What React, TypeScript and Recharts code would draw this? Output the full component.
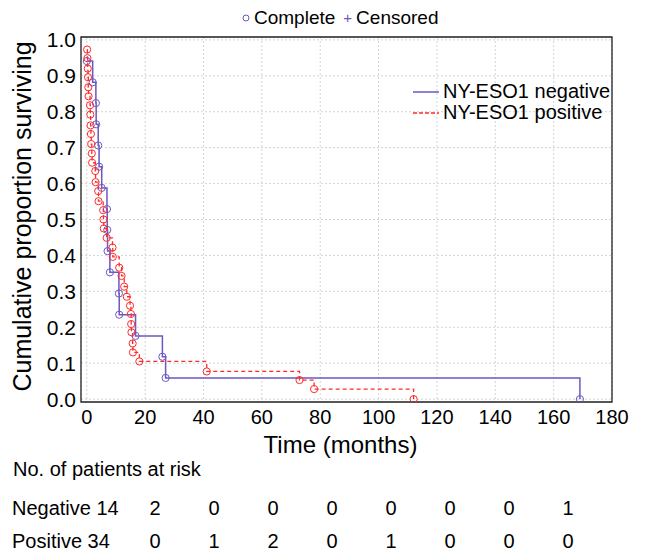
import React from 'react';
import { LineChart, Line, XAxis, YAxis, CartesianGrid, ReferenceArea, Legend } from 'recharts';

// NY-ESO1 negative: event times (months) and survival after each event
const negTime = [0, 2.0, 3.1, 3.2, 3.9, 4.2, 5.1, 6.9, 7.0, 7.1, 7.9, 11.0, 11.1, 16.7, 25.9, 27.0, 169];
const negSurv = [0.941, 0.882, 0.824, 0.765, 0.706, 0.647, 0.588, 0.529, 0.471, 0.412, 0.353, 0.294, 0.235, 0.176, 0.118, 0.059, 0];

// NY-ESO1 positive
const posTime = [0.1, 0.2, 0.3, 0.4, 0.5, 0.6, 1.1, 1.2, 1.3, 1.4, 1.5, 1.7, 1.8, 2.9, 3.0, 3.9, 4.0, 5.6, 5.7, 5.8, 6.8, 8.8, 8.9, 11.1, 11.9, 12.8, 13.7, 14.8, 15.1, 15.2, 15.3, 15.7, 15.8, 18.0, 41.1, 72.9, 77.9, 112];
const posSurv = [0.973, 0.949, 0.92, 0.896, 0.868, 0.843, 0.818, 0.792, 0.762, 0.738, 0.71, 0.684, 0.658, 0.635, 0.604, 0.579, 0.551, 0.526, 0.5, 0.475, 0.449, 0.422, 0.396, 0.366, 0.343, 0.313, 0.285, 0.26, 0.237, 0.209, 0.186, 0.155, 0.13, 0.105, 0.077, 0.053, 0.028, 0];

const xTicks = [0, 20, 40, 60, 80, 100, 120, 140, 160, 180];
const yTicks = [0, 0.1, 0.2, 0.3, 0.4, 0.5, 0.6, 0.7, 0.8, 0.9, 1.0];

const negAtRisk = [14, 2, 0, 0, 0, 0, 0, 0, 1];
const posAtRisk = [34, 0, 1, 2, 0, 1, 0, 0, 0];

const negColor = '#6b58c2';
const posColor = '#ff2b2b';
const font = 'Arial, "Liberation Sans", sans-serif';

const negData = negTime.map((t, i) => ({ t, s: negSurv[i] }));
const posData = posTime.map((t, i) => ({ t, s: posSurv[i] }));

const makeDot = (color: string) => (p: any) => (
  <circle key={`dot-${p.index}`} cx={p.cx} cy={p.cy} r={3.6} fill="none" stroke={color} strokeWidth={1} />
);

const renderLegend = (props: any) => (
  <div style={{ fontFamily: font, fontSize: 20, lineHeight: '21px', color: '#000' }}>
    {(props.payload || []).map((e: any) => (
      <div key={e.value} style={{ display: 'flex', alignItems: 'center', whiteSpace: 'nowrap' }}>
        <svg width={26} height={10}>
          <line x1={0} x2={26} y1={5} y2={5} stroke={e.color} strokeWidth={1.5}
            strokeDasharray={e.value.includes('positive') ? '4 2' : undefined} />
        </svg>
        <span style={{ marginLeft: 4 }}>{e.value}</span>
      </div>
    ))}
  </div>
);

export default function App() {
  const txt: React.CSSProperties = { position: 'absolute', fontFamily: font, fontSize: 20, color: '#000', lineHeight: '20px' };
  return (
    <div style={{ position: 'absolute', left: 0, top: 0, width: 646, height: 554, background: '#fff' }}>
      <div style={{ ...txt, left: 241, top: 8, fontSize: 19, display: 'flex', alignItems: 'center' }}>
        <svg width={10} height={10}><circle cx={5} cy={5} r={3} fill="none" stroke={negColor} /></svg>
        <span style={{ marginLeft: 3 }}>Complete</span>
        <span style={{ marginLeft: 8, color: negColor, fontSize: 15 }}>+</span>
        <span style={{ marginLeft: 4 }}>Censored</span>
      </div>
      <LineChart width={646} height={460} margin={{ top: 37, right: 34, left: 0, bottom: 30 }}>
        <CartesianGrid stroke="#d4d4d4" strokeDasharray="2 2" />
        <XAxis type="number" dataKey="t" domain={[-2, 180]} ticks={xTicks} interval={0}
          axisLine={false} tickLine={false} tickSize={6} tickMargin={2} height={28} allowDataOverflow
          tick={{ fontSize: 20, fill: '#000', fontFamily: font }}
          label={{ value: 'Time (months)', position: 'bottom', offset: 0, dx: -6, dy: 6, style: { fontSize: 24, fill: '#000', fontFamily: font } }} />
        <YAxis type="number" domain={[-0.008, 1.008]} ticks={yTicks} interval={0}
          tickFormatter={(v: number) => v.toFixed(1)} axisLine={false} tickLine={false}
          tickSize={5} tickMargin={0} width={81} allowDataOverflow
          tick={{ fontSize: 21, fill: '#000', fontFamily: font }}
          label={{ value: 'Cumulative proportion surviving', angle: -90, position: 'insideLeft', offset: 22, dy: -3,
            style: { fontSize: 25, fill: '#000', fontFamily: font, textAnchor: 'middle' } }} />
        <ReferenceArea x1={-2} x2={180} y1={-0.008} y2={1.008} fill="none" stroke="#222" strokeWidth={1.3} />
        <Line data={negData} dataKey="s" name="NY-ESO1 negative" type="stepAfter" stroke={negColor}
          strokeWidth={1.5} dot={makeDot(negColor)} activeDot={false} isAnimationActive={false} />
        <Line data={posData} dataKey="s" name="NY-ESO1 positive" type="stepAfter" stroke={posColor}
          strokeWidth={1.3} strokeDasharray="4 3" dot={makeDot(posColor)} activeDot={false} isAnimationActive={false} />
        <Legend layout="vertical" align="center" verticalAlign="middle" content={renderLegend}
          wrapperStyle={{ top: 81, left: 413, width: 200, height: 44 }} />
      </LineChart>
      <div style={{ ...txt, left: 13, top: 459 }}>No. of patients at risk</div>
      <div style={{ ...txt, left: 12, top: 498 }}>Negative {negAtRisk[0]}</div>
      <div style={{ ...txt, left: 12, top: 531 }}>Positive {posAtRisk[0]}</div>
      {negAtRisk.slice(1).map((n, i) => (
        <div key={`n${i}`} style={{ ...txt, left: 155 + i * 59 - 20, width: 40, textAlign: 'center', top: 498 }}>{n}</div>
      ))}
      {posAtRisk.slice(1).map((n, i) => (
        <div key={`p${i}`} style={{ ...txt, left: 155 + i * 59 - 20, width: 40, textAlign: 'center', top: 531 }}>{n}</div>
      ))}
    </div>
  );
}
